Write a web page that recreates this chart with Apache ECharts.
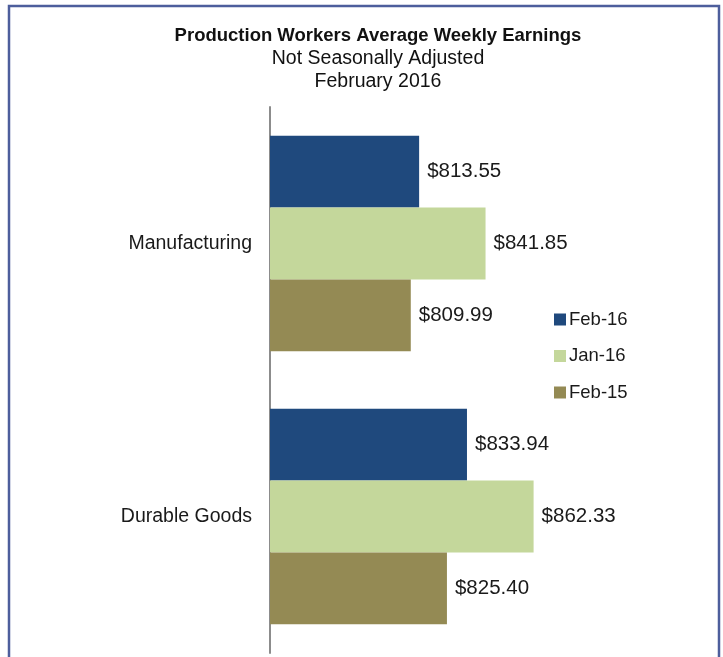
<!DOCTYPE html>
<html>
<head>
<meta charset="utf-8">
<script src="https://cdn.jsdelivr.net/npm/echarts@6/dist/echarts.min.js"></script>
<style>
  html, body { margin: 0; padding: 0; background: #fff; }
  #chart { width: 723px; height: 657px; }
</style>
</head>
<body>
<div id="chart"></div>
<script>
// categories and series, top to bottom
var categories = ['Manufacturing', 'Durable Goods'];
var seriesNames = ['Feb-16', 'Jan-16', 'Feb-15'];
var feb16 = [813.55, 833.94];
var jan16 = [841.85, 862.33];
var feb15 = [809.99, 825.40];
var colors = ['#1f497d', '#c4d79b', '#948a54'];

var chart = echarts.init(document.getElementById('chart'));
var font = '"Liberation Sans", Arial, sans-serif';

function money(p) {
  return '$' + p.value.toFixed(2);
}

function makeSeries(name, data, color) {
  return {
    name: name,
    type: 'bar',
    data: data,
    itemStyle: { color: color },
    barGap: 0,
    barCategoryGap: '21%',
    label: {
      show: true,
      position: 'right',
      distance: 8,
      formatter: money,
      fontFamily: font,
      fontSize: 20.5,
      color: '#1a1a1a'
    },
    silent: true
  };
}

chart.setOption({
  backgroundColor: '#fff',
  animation: false,
  color: colors,
  textStyle: { fontFamily: font },
  graphic: [{
    type: 'rect',
    shape: { x: 9, y: 6, width: 710, height: 700 },
    style: { fill: 'none', stroke: '#4d5e9c', lineWidth: 2.5 },
    silent: true
  }],
  title: {
    text: 'Production Workers Average Weekly Earnings',
    subtext: 'Not Seasonally Adjusted\nFebruary 2016',
    left: 373,
    textAlign: 'center',
    top: 21,
    itemGap: 2,
    textStyle: { fontFamily: font, fontSize: 18.5, fontWeight: 'bold', color: '#111' },
    subtextStyle: { fontFamily: font, fontSize: 19.5, color: '#111', lineHeight: 23 }
  },
  legend: {
    orient: 'vertical',
    left: 549,
    top: 305,
    itemWidth: 12,
    itemHeight: 12,
    itemGap: 17.5,
    icon: 'rect',
    data: seriesNames,
    textStyle: { fontFamily: font, fontSize: 18.5, color: '#1a1a1a', padding: [0, 0, 0, -2] }
  },
  grid: { left: 270, right: 101, top: 107, bottom: 4, containLabel: false },
  xAxis: {
    type: 'value',
    min: 750,
    max: 900,
    show: false,
    splitLine: { show: false }
  },
  yAxis: {
    type: 'category',
    inverse: true,
    data: categories,
    axisTick: { show: false },
    axisLine: { show: true, lineStyle: { color: '#8c8c8c', width: 2 } },
    axisLabel: { fontFamily: font, fontSize: 19.5, color: '#1a1a1a', margin: 18 }
  },
  series: [
    makeSeries(seriesNames[0], feb16, colors[0]),
    makeSeries(seriesNames[1], jan16, colors[1]),
    makeSeries(seriesNames[2], feb15, colors[2])
  ]
});
</script>
</body>
</html>
